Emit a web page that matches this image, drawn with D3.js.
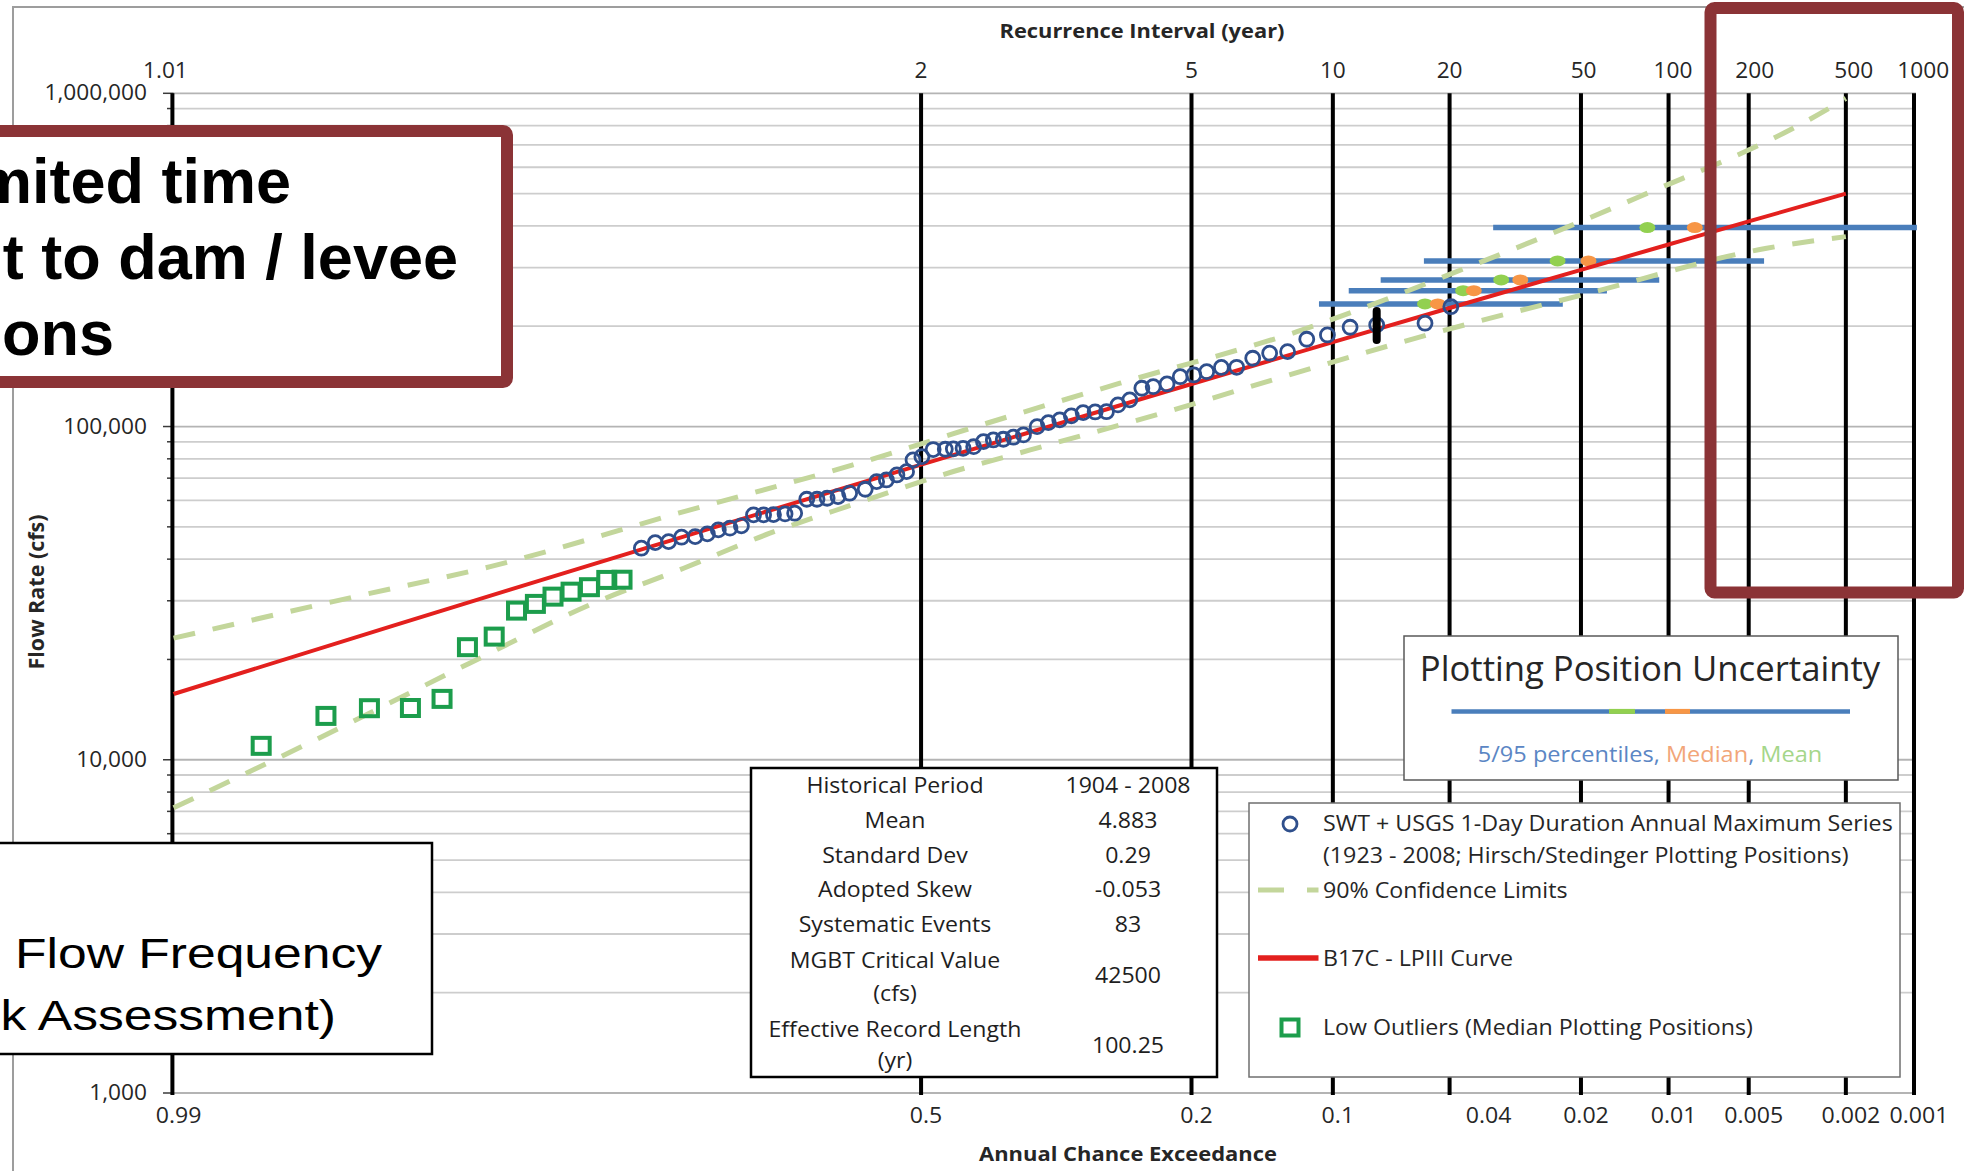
<!DOCTYPE html>
<html>
<head>
<meta charset="utf-8">
<script src="https://cdn.jsdelivr.net/npm/d3@7"></script>
<style>
  html, body { margin: 0; padding: 0; background: #fff; }
  svg { display: block; }
</style>
</head>
<body>
<svg id="chart" width="1964" height="1171"></svg>
<script>
// ---------------- data ----------------
// Recurrence intervals (years) along the top axis; each has a vertical line.
const topIntervals = [1.01, 2, 5, 10, 20, 50, 100, 200, 500, 1000];
const topLabels = ["1.01", "2", "5", "10", "20", "50", "100", "200", "500", "1000"];

// Annual chance exceedance labels along the bottom axis.
const bottomProbs = [0.99, 0.5, 0.2, 0.1, 0.04, 0.02, 0.01, 0.005, 0.002, 0.001];
const bottomLabels = ["0.99", "0.5", "0.2", "0.1", "0.04", "0.02", "0.01", "0.005", "0.002", "0.001"];

// Flow axis (cfs, log scale).
const flowTicks = [1000, 10000, 100000, 1000000];
const flowTickLabels = ["1,000", "10,000", "100,000", "1,000,000"];

// SWT + USGS 1-day annual maximum series: plotting position (ACE) and flow (cfs).
const seriesP = [0.808, 0.796, 0.784, 0.772, 0.759, 0.747, 0.736, 0.724, 0.712, 0.699,
  0.688, 0.677, 0.664, 0.653, 0.639, 0.627, 0.615, 0.602, 0.588, 0.569,
  0.555, 0.543, 0.530, 0.518, 0.510, 0.499, 0.485, 0.470, 0.460, 0.448,
  0.435, 0.423, 0.411, 0.399, 0.387, 0.375, 0.359, 0.346, 0.333, 0.320,
  0.307, 0.294, 0.282, 0.270, 0.258, 0.246, 0.235, 0.222, 0.210, 0.198,
  0.187, 0.175, 0.163, 0.151, 0.139, 0.127, 0.115, 0.103, 0.0909, 0.0781,
  0.0584, 0.0496];
const seriesQ = [43140, 44840, 45150, 46550, 46750, 47620, 48960, 49540, 50330, 54300,
  54300, 54400, 54670, 54940, 60500, 60500, 60920, 61600, 63080, 64840,
  68330, 69140, 71570, 73220, 79400, 81210, 85300, 85460, 85700, 86050,
  87010, 90080, 91150, 91600, 92880, 94370, 99900, 102700, 104700, 107600,
  110100, 110600, 110800, 116100, 120200, 130300, 131700, 134200, 141100, 142800,
  146100, 150400, 150600, 160300, 166000, 167800, 182800, 188300, 198600, 201800,
  204200, 228900];

// Low outliers (median plotting positions).
const outlierP = [0.980, 0.968, 0.957, 0.944, 0.932, 0.921, 0.908, 0.896, 0.885, 0.874, 0.862, 0.849, 0.836, 0.824];
const outlierQ = [11010, 13540, 14280, 14300, 15230, 21770, 23420, 28030, 29360, 30870, 31950, 32950, 34650, 34700];

// B17C - LPIII frequency curve.
const curveP = [0.99, 0.95, 0.9, 0.8, 0.5, 0.2, 0.1, 0.05, 0.02, 0.01, 0.005, 0.002];
const curveQ = [15750, 25210, 32330, 43630, 76840, 134200, 179100, 226800, 295300, 351800, 412700, 499700];

// 90% confidence limits.
const upperP = [0.99, 0.96, 0.91, 0.775, 0.584, 0.419, 0.268, 0.121, 0.044, 0.0127, 0.00287, 0.002];
const upperQ = [23170, 31030, 37990, 54940, 76700, 102300, 134900, 192600, 301800, 489500, 831600, 965000];
const lowerP = [0.99, 0.971, 0.92, 0.846, 0.77, 0.681, 0.579, 0.474, 0.367, 0.222, 0.119, 0.0554, 0.0189, 0.00425, 0.002];
const lowerQ = [7175, 11340, 19490, 29500, 37570, 47850, 58880, 71570, 85070, 110800, 146100, 190500, 251100, 342800, 371500];

// Plotting position uncertainty for the largest events: 5/95 percentiles, median, mean.
const barQ = [395300, 314000, 275400, 255700, 233300];
const barP05 = [0.0375, 0.0588, 0.0763, 0.0916, 0.1078];
const barP95 = [0.00097, 0.00435, 0.0108, 0.0164, 0.0229];
const barMeanP = [0.0119, 0.0238, 0.0355, 0.0458, 0.0584];
const barMedianP = [0.00802, 0.0189, 0.0311, 0.0427, 0.0539];

// Historical flow range marker.
const histP = [0.0781];
const histLow = [178100];
const histHigh = [226900];

// Statistics table.
const statLabels = [["Historical Period"], ["Mean"], ["Standard Dev"], ["Adopted Skew"],
  ["Systematic Events"], ["MGBT Critical Value", "(cfs)"], ["Effective Record Length", "(yr)"]];
const statValues = ["1904 - 2008", "4.883", "0.29", "-0.053", "83", "42500", "100.25"];

// ---------------- scales ----------------
// Inverse standard normal CDF (Acklam) for the probability axis.
function normInv(p) {
  const a = [-3.969683028665376e+01, 2.209460984245205e+02, -2.759285104469687e+02, 1.383577518672690e+02, -3.066479806614716e+01, 2.506628277459239e+00];
  const b = [-5.447609879822406e+01, 1.615858368580409e+02, -1.556989798598866e+02, 6.680131188771972e+01, -1.328068155288572e+01];
  const c = [-7.784894002430293e-03, -3.223964580411365e-01, -2.400758277161838e+00, -2.549671010336180e+00, 4.374664141464968e+00, 2.938163982698783e+00];
  const d = [7.784695709041462e-03, 3.224671290700398e-01, 2.445134137142996e+00, 3.754408661907416e+00];
  const pl = 0.02425;
  let q, r;
  if (p < pl) {
    q = Math.sqrt(-2 * Math.log(p));
    return (((((c[0]*q+c[1])*q+c[2])*q+c[3])*q+c[4])*q+c[5]) / ((((d[0]*q+d[1])*q+d[2])*q+d[3])*q+1);
  }
  if (p > 1 - pl) {
    q = Math.sqrt(-2 * Math.log(1 - p));
    return -(((((c[0]*q+c[1])*q+c[2])*q+c[3])*q+c[4])*q+c[5]) / ((((d[0]*q+d[1])*q+d[2])*q+d[3])*q+1);
  }
  q = p - 0.5; r = q * q;
  return (((((a[0]*r+a[1])*r+a[2])*r+a[3])*r+a[4])*r+a[5])*q / (((((b[0]*r+b[1])*r+b[2])*r+b[3])*r+b[4])*r+1);
}

const zScale = d3.scaleLinear().domain([normInv(0.01), normInv(0.999)]).range([173.6, 1914]);
const x = p => zScale(normInv(1 - p));
const y = d3.scaleLog().domain([1000, 1e6]).range([1093, 93.3]);

const svg = d3.select("#chart");
const FONT = "'Open Sans', 'DejaVu Sans', sans-serif";
const TXT = "#262626";

// text with horizontal stretch
function stext(g, str, px, py, o = {}) {
  const t = g.append("text")
    .attr("transform", `translate(${px},${py}) scale(${o.sx || 1},1)` + (o.rot ? ` rotate(${o.rot})` : ""))
    .attr("font-family", o.family || FONT)
    .attr("font-size", o.size || 21)
    .attr("font-weight", o.weight || "normal")
    .attr("text-anchor", o.anchor || "start")
    .attr("fill", o.fill || TXT)
    .text(str);
  return t;
}

// outer frame
svg.append("rect").attr("x", 13).attr("y", 7).attr("width", 2100).attr("height", 1300)
  .attr("fill", "none").attr("stroke", "#9d9d9d").attr("stroke-width", 2);

// ---------------- grid ----------------
const gridVals = [];
for (let k = 3; k < 6; k++) for (let m = 1; m < 10; m++) gridVals.push(m * Math.pow(10, k));
gridVals.push(1e6);

const grid = svg.append("g");
grid.selectAll("line.h").data(gridVals).join("line")
  .attr("x1", 173.6).attr("x2", 1916)
  .attr("y1", d => y(d)).attr("y2", d => y(d))
  .attr("stroke", d => flowTicks.includes(d) ? "#b4b4b4" : "#cdcdcd")
  .attr("stroke-width", 1.8);

// y-axis tick marks
grid.selectAll("line.t").data(gridVals).join("line")
  .attr("x1", d => flowTicks.includes(d) ? 163 : 167).attr("x2", 173.6)
  .attr("y1", d => y(d)).attr("y2", d => y(d))
  .attr("stroke", "#3a3a3a").attr("stroke-width", 1.5);

// vertical recurrence-interval lines
grid.selectAll("line.v").data(topIntervals).join("line")
  .attr("x1", d => x(1 / d)).attr("x2", d => x(1 / d))
  .attr("y1", y(1e6)).attr("y2", y(1000) + 2)
  .attr("stroke", "#000").attr("stroke-width", 4);

// ---------------- axis labels ----------------
const lab = svg.append("g");
topIntervals.forEach((T, i) => {
  const vx = x(1 / T);
  const px = vx + (i === 0 ? -7 : Math.max(0, (vx - 1450) * 0.02));
  stext(lab, topLabels[i], px, 78, { anchor: "middle", size: 21, sx: 1.08 });
});
bottomProbs.forEach((p, i) => {
  stext(lab, bottomLabels[i], x(p) + 5, 1123, { anchor: "middle", size: 21, sx: 1.1 });
});
flowTicks.forEach((v, i) => {
  stext(lab, flowTickLabels[i], 147, y(v) + 7, { anchor: "end", size: 21, sx: 1.08 });
});
stext(lab, "Recurrence Interval (year)", 1142, 37.5, { anchor: "middle", size: 19, weight: "bold", sx: 1.15 });
stext(lab, "Annual Chance Exceedance", 1128, 1161, { anchor: "middle", size: 19, weight: "bold", sx: 1.155 });
stext(lab, "Flow Rate (cfs)", 44, 592, { anchor: "middle", size: 21.5, weight: "bold", rot: -90 });

// ---------------- marks ----------------
const marks = svg.append("g");

// uncertainty bars
barQ.forEach((q, i) => {
  marks.append("line")
    .attr("x1", x(barP05[i])).attr("x2", x(barP95[i]))
    .attr("y1", y(q)).attr("y2", y(q))
    .attr("stroke", "#4a7ebb").attr("stroke-width", 5.5);
});
marks.selectAll("ellipse.mean").data(barQ).join("ellipse")
  .attr("cx", (q, i) => x(barMeanP[i])).attr("cy", q => y(q))
  .attr("rx", 8).attr("ry", 5.5).attr("fill", "#92d050");
marks.selectAll("ellipse.med").data(barQ).join("ellipse")
  .attr("cx", (q, i) => x(barMedianP[i])).attr("cy", q => y(q))
  .attr("rx", 8).attr("ry", 5.5).attr("fill", "#f79646");

// confidence limits
const line = d3.line().x(d => x(d[0])).y(d => y(d[1])).curve(d3.curveMonotoneX);
const clStyle = s => s.attr("fill", "none").attr("stroke", "#c3d69b").attr("stroke-width", 5)
  .attr("stroke-dasharray", "22,18");
marks.append("path").attr("d", line(upperP.map((p, i) => [p, upperQ[i]]))).call(clStyle);
marks.append("path").attr("d", line(lowerP.map((p, i) => [p, lowerQ[i]]))).call(clStyle);

// LPIII curve
marks.append("path").attr("d", line(curveP.map((p, i) => [p, curveQ[i]])))
  .attr("fill", "none").attr("stroke", "#e3201e").attr("stroke-width", 4);

// low outliers
marks.selectAll("rect.lo").data(outlierP).join("rect")
  .attr("x", (p) => x(p) - 8.5).attr("y", (p, i) => y(outlierQ[i]) - 8)
  .attr("width", 17).attr("height", 16)
  .attr("fill", "none").attr("stroke", "#1c9d4c").attr("stroke-width", 4);

// annual maximum series
marks.selectAll("circle.s").data(seriesP).join("circle")
  .attr("cx", p => x(p)).attr("cy", (p, i) => y(seriesQ[i]))
  .attr("r", 7)
  .attr("fill", "none").attr("stroke", "#2f4f8c").attr("stroke-width", 2.8);

// historical range marker
marks.selectAll("line.hist").data(histP).join("line")
  .attr("x1", p => x(p)).attr("x2", p => x(p))
  .attr("y1", (p, i) => y(histLow[i]) - 3).attr("y2", (p, i) => y(histHigh[i]) + 3)
  .attr("stroke", "#000").attr("stroke-width", 8).attr("stroke-linecap", "round");

// ---------------- statistics table ----------------
const tbl = svg.append("g");
tbl.append("rect").attr("x", 751).attr("y", 768).attr("width", 466).attr("height", 309)
  .attr("fill", "#fff").attr("stroke", "#000").attr("stroke-width", 2.5);
const labelLines = [[793], [828], [862.7], [897], [931.7], [968, 1000.7], [1037, 1068]];
const valueLine = [793, 828, 862.7, 897, 931.7, 983, 1053];
statLabels.forEach((lines, i) => {
  lines.forEach((s, j) => stext(tbl, s, 895, labelLines[i][j], { anchor: "middle", size: 21.5, sx: 1.075, fill: "#1e1e1e" }));
  stext(tbl, statValues[i], 1128, valueLine[i], { anchor: "middle", size: 21.5, sx: 1.075, fill: "#1e1e1e" });
});

// ---------------- plotting position uncertainty key ----------------
const ppu = svg.append("g");
ppu.append("rect").attr("x", 1404).attr("y", 636).attr("width", 494).attr("height", 144)
  .attr("fill", "#fff").attr("stroke", "#595959").attr("stroke-width", 1.5);
stext(ppu, "Plotting Position Uncertainty", 1650, 681, { anchor: "middle", size: 34, sx: 1.02 });
ppu.append("line").attr("x1", 1451.5).attr("x2", 1850).attr("y1", 711.4).attr("y2", 711.4)
  .attr("stroke", "#4a7ebb").attr("stroke-width", 4.5);
ppu.append("line").attr("x1", 1609).attr("x2", 1635).attr("y1", 711.4).attr("y2", 711.4)
  .attr("stroke", "#92d050").attr("stroke-width", 5);
ppu.append("line").attr("x1", 1665).attr("x2", 1690).attr("y1", 711.4).attr("y2", 711.4)
  .attr("stroke", "#f79646").attr("stroke-width", 5);
const sub = stext(ppu, "", 1650, 762, { anchor: "middle", size: 21.5, sx: 1.095 });
sub.append("tspan").attr("fill", "#5b86c4").text("5/95 percentiles, ");
sub.append("tspan").attr("fill", "#f2a679").text("Median");
sub.append("tspan").attr("fill", "#5b86c4").text(", ");
sub.append("tspan").attr("fill", "#a5d68a").text("Mean");

// ---------------- legend ----------------
const leg = svg.append("g");
leg.append("rect").attr("x", 1249).attr("y", 803).attr("width", 651).attr("height", 274)
  .attr("fill", "#fff").attr("stroke", "#6f6f6f").attr("stroke-width", 1.5);
leg.append("circle").attr("cx", 1290).attr("cy", 824).attr("r", 7)
  .attr("fill", "none").attr("stroke", "#2f4f8c").attr("stroke-width", 2.8);
const LEG = { size: 21.5, sx: 1.08 };
stext(leg, "SWT + USGS 1-Day Duration Annual Maximum Series", 1323, 831, LEG);
stext(leg, "(1923 - 2008; Hirsch/Stedinger Plotting Positions)", 1323, 862.5, LEG);
leg.append("line").attr("x1", 1258).attr("x2", 1318.5).attr("y1", 890).attr("y2", 890)
  .attr("stroke", "#c3d69b").attr("stroke-width", 5).attr("stroke-dasharray", "26,23");
stext(leg, "90% Confidence Limits", 1323, 897.6, LEG);
leg.append("line").attr("x1", 1258).attr("x2", 1318.5).attr("y1", 958).attr("y2", 958)
  .attr("stroke", "#e3201e").attr("stroke-width", 5.5);
stext(leg, "B17C - LPIII Curve", 1323, 966, LEG);
leg.append("rect").attr("x", 1281.5).attr("y", 1019.5).attr("width", 17).attr("height", 16)
  .attr("fill", "none").attr("stroke", "#1c9d4c").attr("stroke-width", 4);
stext(leg, "Low Outliers (Median Plotting Positions)", 1323, 1034.6, LEG);

// ---------------- callouts ----------------
const SANS = "'Liberation Sans', Arial, sans-serif";
const call = svg.append("g");
call.append("rect").attr("x", -30).attr("y", 131).attr("width", 537).attr("height", 251).attr("rx", 4)
  .attr("fill", "#fff").attr("stroke", "#8b3336").attr("stroke-width", 12);
[["mited time", 291, 203], ["t to dam / levee", 458, 278.5], ["ons", 114, 355]].forEach(([s, ex, by]) =>
  stext(call, s, ex, by, { anchor: "end", size: 63, weight: "bold", family: SANS, fill: "#000" }));

call.append("rect").attr("x", -10).attr("y", 843).attr("width", 442).attr("height", 211)
  .attr("fill", "#fff").attr("stroke", "#000").attr("stroke-width", 2.5);
stext(call, "Flow Frequency", 382, 967.5, { anchor: "end", size: 43, family: SANS, fill: "#000", sx: 1.2 });
stext(call, "k Assessment)", 336, 1030, { anchor: "end", size: 43, family: SANS, fill: "#000", sx: 1.2 });

call.append("rect").attr("x", 1710.5).attr("y", 8).attr("width", 247.5).attr("height", 584.5).attr("rx", 4)
  .attr("fill", "none").attr("stroke", "#8b3336").attr("stroke-width", 12);
</script>
</body>
</html>
